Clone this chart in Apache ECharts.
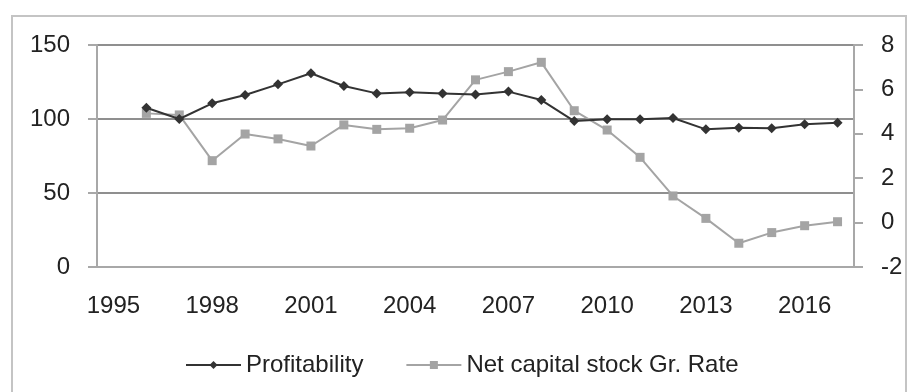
<!DOCTYPE html>
<html>
<head>
<meta charset="utf-8">
<script src="https://cdn.jsdelivr.net/npm/echarts@6/dist/echarts.min.js"></script>
<style>
  html, body { margin: 0; padding: 0; background: #fff; }
  #chart { width: 908px; height: 392px; }
</style>
</head>
<body>
<div id="chart"></div>
<script>
// Years on the category axis
const years = ['1995','1996','1997','1998','1999','2000','2001','2002','2003','2004','2005','2006',
               '2007','2008','2009','2010','2011','2012','2013','2014','2015','2016','2017'];

// Profitability index (left axis)
const profitability = [null, 107.6, 100.0, 110.6, 116.2, 123.4, 130.9, 122.3, 117.3, 118.0, 117.3, 116.5,
                       118.5, 112.8, 98.6, 99.8, 99.8, 100.7, 93.0, 94.1, 93.7, 96.4, 97.5];

// Net capital stock growth rate, % (right axis)
const capitalGrowth = [null, 4.92, 4.85, 2.79, 3.99, 3.77, 3.45, 4.40, 4.20, 4.25, 4.62, 6.43,
                       6.80, 7.22, 5.04, 4.17, 2.94, 1.20, 0.19, -0.93, -0.45, -0.14, 0.04];

const FONT = '"Liberation Sans", Arial, sans-serif';
const TXT = '#222';

const chart = echarts.init(document.getElementById('chart'), null, { renderer: 'canvas' });

chart.setOption({
  backgroundColor: '#fff',
  animation: false,
  textStyle: { fontFamily: FONT },
  graphic: [{
    type: 'rect',
    shape: { x: 12, y: 16, width: 894, height: 400 },
    style: { fill: 'none', stroke: '#c4c4c4', lineWidth: 2 },
    silent: true,
    z: -1
  }],
  grid: { left: 97, right: 54, top: 45, bottom: 125, containLabel: false },
  legend: {
    left: 180,
    top: 348,
    itemWidth: 55,
    itemHeight: 10,
    itemGap: 42,
    textStyle: { fontFamily: FONT, fontSize: 24, color: TXT },
    data: ['Profitability', 'Net capital stock Gr. Rate']
  },
  xAxis: {
    type: 'category',
    data: years,
    boundaryGap: true,
    axisLine: { lineStyle: { color: '#a8a8a8', width: 2 } },
    axisTick: { interval: 0, length: 8, lineStyle: { color: '#a8a8a8', width: 2 } },
    axisLabel: { interval: 2, margin: 27, fontSize: 24, color: TXT, fontFamily: FONT }
  },
  yAxis: [
    {
      type: 'value',
      min: 0, max: 150, interval: 50,
      axisLine: { show: true, lineStyle: { color: '#a8a8a8', width: 2 } },
      axisTick: { show: true, length: 9, lineStyle: { color: '#a8a8a8', width: 2 } },
      axisLabel: { margin: 27, fontSize: 24, color: TXT, fontFamily: FONT },
      splitLine: { show: true, lineStyle: { color: '#6a6a6a', width: 1.5 } }
    },
    {
      type: 'value',
      position: 'right',
      min: -2, max: 8, interval: 2,
      axisLine: { show: true, lineStyle: { color: '#a8a8a8', width: 2 } },
      axisTick: { show: true, length: 9, lineStyle: { color: '#a8a8a8', width: 2 } },
      axisLabel: { margin: 27, fontSize: 24, color: TXT, fontFamily: FONT },
      splitLine: { show: false }
    }
  ],
  series: [
    {
      name: 'Profitability',
      type: 'line',
      yAxisIndex: 0,
      data: profitability,
      symbol: 'diamond',
      symbolSize: 10,
      lineStyle: { color: '#333', width: 2 },
      itemStyle: { color: '#333' },
      z: 3
    },
    {
      name: 'Net capital stock Gr. Rate',
      type: 'line',
      yAxisIndex: 1,
      data: capitalGrowth,
      symbol: 'rect',
      symbolSize: 9,
      lineStyle: { color: '#a4a4a4', width: 2 },
      itemStyle: { color: '#a4a4a4' },
      z: 2
    }
  ]
});
</script>
</body>
</html>
